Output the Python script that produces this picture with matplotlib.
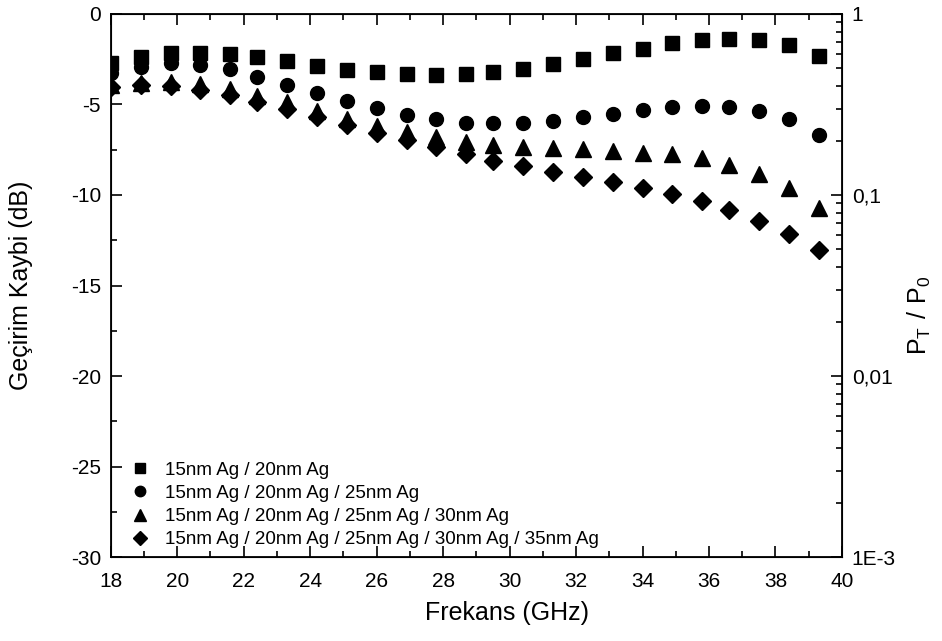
import matplotlib
matplotlib.use("Agg")
import matplotlib.pyplot as plt
import matplotlib.ticker as mticker
import numpy as np

plt.rcParams['font.family'] = ['Liberation Sans', 'DejaVu Sans']
plt.rcParams['axes.unicode_minus'] = False

# frequency points (GHz)
freq = [18.0, 18.9, 19.8, 20.7, 21.6, 22.4, 23.3, 24.2, 25.1, 26.0, 26.9, 27.8, 28.7,
        29.5, 30.4, 31.3, 32.2, 33.1, 34.0, 34.9, 35.8, 36.6, 37.5, 38.4, 39.3]

# transmission loss (dB)
loss_2 = [-2.72, -2.35, -2.13, -2.13, -2.23, -2.39, -2.60, -2.87, -3.09, -3.22, -3.31, -3.37, -3.32,
          -3.20, -3.02, -2.78, -2.50, -2.17, -1.92, -1.62, -1.44, -1.38, -1.44, -1.71, -2.32]
loss_3 = [-3.28, -2.91, -2.72, -2.82, -3.06, -3.46, -3.92, -4.38, -4.81, -5.21, -5.58, -5.82, -6.00,
          -6.04, -6.04, -5.90, -5.71, -5.52, -5.30, -5.15, -5.07, -5.12, -5.34, -5.82, -6.69]
loss_4 = [-3.95, -3.83, -3.77, -3.87, -4.14, -4.51, -4.88, -5.34, -5.80, -6.17, -6.54, -6.81, -7.05,
          -7.24, -7.33, -7.42, -7.48, -7.57, -7.66, -7.75, -7.94, -8.34, -8.84, -9.63, -10.73]
loss_5 = [-4.02, -3.92, -3.98, -4.20, -4.48, -4.85, -5.27, -5.67, -6.13, -6.56, -6.96, -7.37, -7.73,
          -8.10, -8.40, -8.71, -8.99, -9.30, -9.63, -9.94, -10.31, -10.83, -11.42, -12.15, -13.04]

labels = ["15nm Ag / 20nm Ag",
          "15nm Ag / 20nm Ag / 25nm Ag",
          "15nm Ag / 20nm Ag / 25nm Ag / 30nm Ag",
          "15nm Ag / 20nm Ag / 25nm Ag / 30nm Ag / 35nm Ag"]

right_ticks = [1e-3, 1e-2, 1e-1, 1]
right_labels = ["1E-3", "0,01", "0,1", "1"]

fig = plt.figure(figsize=(9.42, 6.41), dpi=100)
ax = fig.add_axes([0.1175, 0.131, 0.7763, 0.8472])

series = [(loss_2, "s", 9.5), (loss_3, "o", 10), (loss_4, "^", 11), (loss_5, "D", 9.5)]
for (vals, mk, ms), lab in zip(series, labels):
    ax.plot(freq, vals, linestyle="none", marker=mk, markersize=ms, color="black", label=lab)

ax.set_xlim(18, 40)
ax.set_ylim(-30, 0)
ax.xaxis.set_major_locator(mticker.MultipleLocator(2))
ax.xaxis.set_minor_locator(mticker.MultipleLocator(1))
ax.yaxis.set_major_locator(mticker.MultipleLocator(5))
ax.yaxis.set_minor_locator(mticker.MultipleLocator(2.5))
ax.tick_params(which="both", direction="in", top=True, right=False, width=1.2, labelsize=15)
ax.tick_params(axis="x", pad=10.5)
ax.tick_params(axis="y", pad=7)
ax.tick_params(which="major", length=8)
ax.tick_params(which="minor", length=4.5)
for s in ax.spines.values():
    s.set_linewidth(1.3)

ax.set_xlabel("Frekans (GHz)", fontsize=18)
ax.set_ylabel("Geçirim Kaybi (dB)", fontsize=18)
ax.xaxis.set_label_coords(0.542, -0.081)
ax.yaxis.set_label_coords(-0.106, 0.5)

# right axis: linear power ratio
ax2 = ax.twinx()
ax2.set_yscale("log")
ax2.set_ylim(1e-3, 1)
ax2.set_yticks(right_ticks)
ax2.set_yticklabels(right_labels)
ax2.yaxis.set_minor_locator(mticker.LogLocator(base=10, subs=np.arange(2, 10)))
ax2.yaxis.set_minor_formatter(mticker.NullFormatter())
ax2.tick_params(which="both", direction="in", width=1.2, labelsize=15, pad=7)
ax2.tick_params(which="major", length=8)
ax2.tick_params(which="minor", length=4.5)
ax2.set_ylabel(r"$\mathregular{P_T\ /\ P_0}$", fontsize=18)
ax2.yaxis.set_label_coords(1.087, 0.446)

leg = ax.legend(loc="lower left", bbox_to_anchor=(0.01, -0.008), frameon=False, fontsize=13.5,
                handletextpad=0.8, labelspacing=0.32, handlelength=1.0, borderaxespad=0.3,
                markerscale=0.75)

fig.savefig("out.png", dpi=100)
